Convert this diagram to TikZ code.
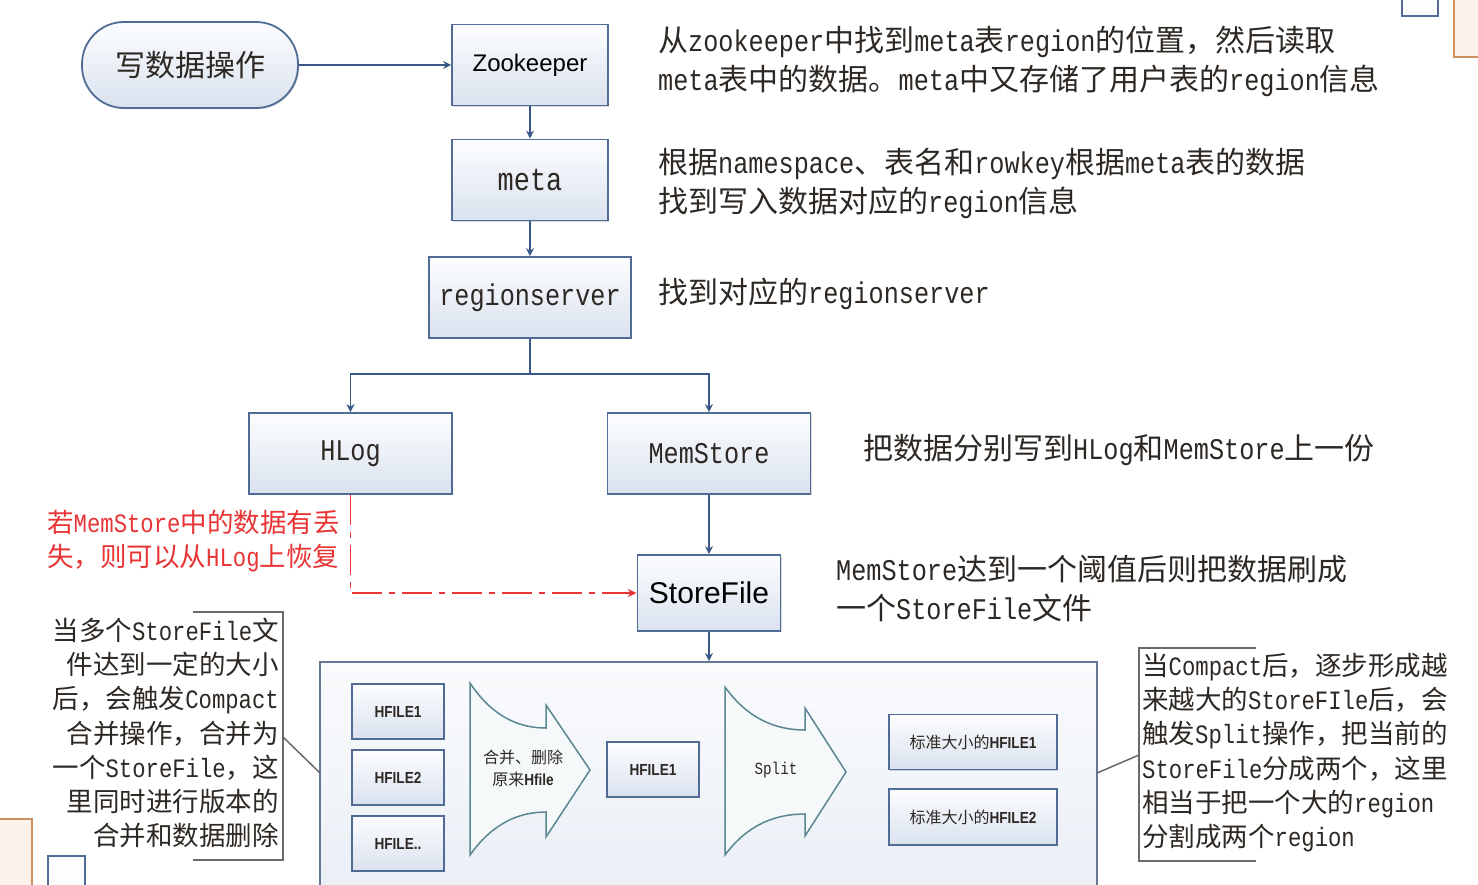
\documentclass[tikz,border=0pt]{standalone}
\usepackage{fontspec}
\setmainfont[FakeStretch=0.84]{Liberation Mono}
\newfontfamily\cjkfont{Noto Sans CJK SC}
\newfontfamily\latfont[FakeStretch=0.84]{Liberation Mono}
\newfontfamily\sansfont{Liberation Sans}
\newfontfamily\hfont[FakeStretch=0.85]{Liberation Sans}
\usetikzlibrary{arrows.meta,shadows}
\chardef\cjkcls=10
\newcount\cjkc
\def\setcjkrange#1#2{\cjkc=#1\relax\loop\XeTeXcharclass\cjkc=\cjkcls\relax\ifnum\cjkc<#2\relax\advance\cjkc by 1\repeat}
\setcjkrange{"4E00}{"9FFF}
\setcjkrange{"3000}{"303F}
\setcjkrange{"FF00}{"FFEF}
\def\curlatin{\latfont}
\XeTeXinterchartoks 0 \cjkcls = {\cjkfont}
\XeTeXinterchartoks 4095 \cjkcls = {\cjkfont}
\XeTeXinterchartoks \cjkcls 0 = {\curlatin}
\XeTeXinterchartokenstate=1
\definecolor{boxb}{RGB}{80,108,150}
\definecolor{boxt}{RGB}{252,253,255}
\definecolor{boxf}{RGB}{218,226,238}
\definecolor{conn}{RGB}{58,88,135}
\definecolor{txt}{RGB}{45,40,35}
\definecolor{redc}{RGB}{232,52,52}
\definecolor{bigb}{RGB}{100,120,150}
\definecolor{bigt}{RGB}{250,251,253}
\definecolor{bigf}{RGB}{233,238,245}
\definecolor{chev}{RGB}{90,135,145}
\definecolor{chevf}{RGB}{246,249,250}
\definecolor{brk}{RGB}{105,105,105}
\definecolor{orb}{RGB}{205,145,95}
\definecolor{orf}{RGB}{253,242,234}
\begin{document}
\begin{tikzpicture}[x=1pt,y=-1pt,
  box/.style={draw=boxb, line width=1.8pt, top color=boxt, bottom color=boxf,
    drop shadow={shadow xshift=1.2pt,shadow yshift=-1.2pt,opacity=0.15,fill=black},
    inner sep=0pt, text=txt},
  bigbox/.style={draw=bigb, line width=1.8pt, top color=bigt, bottom color=bigf, inner sep=0pt},
  conn/.style={draw=conn, line width=1.8pt, -{Stealth[length=8pt,width=8pt]}},
  redline/.style={draw=redc, line width=1.8pt, dash pattern=on 30pt off 7pt on 6pt off 7pt,
    -{Stealth[length=9pt,width=8pt]}},
  brkline/.style={draw=brk, line width=1.5pt},
  chevron/.style={draw=chev, line width=1.5pt, fill=chevf},
  note/.style={inner sep=0pt, text=txt},
  f30/.style={font=\def\curlatin{\latfont}\latfont\fontsize{30}{39}\selectfont},
  f26/.style={font=\def\curlatin{\latfont}\latfont\fontsize{26.5}{34.2}\selectfont},
  hf/.style={font=\def\curlatin{\hfont\bfseries}\hfont\bfseries\fontsize{16}{20}\selectfont},
  sm/.style={font=\def\curlatin{\hfont\bfseries}\cjkfont\fontsize{16}{22}\selectfont},
]
\useasboundingbox (0,0) rectangle (1478,884);
\clip (0,0) rectangle (1478,884);
\fill[white] (0,0) rectangle (1478,884);

% corner fragments
\draw[draw=orb, line width=1.5pt, fill=orf] (-10,819) rectangle (32,900);
\draw[draw=boxb, line width=1.5pt, fill=boxt] (48,856) rectangle (85,900);
\draw[draw=boxb, line width=1.5pt, fill=boxt] (1402,-10) rectangle (1438,16);
\draw[draw=orb, line width=1.5pt, fill=orf] (1454,-10) rectangle (1490,57);

% main flow
\node[box, minimum width=216pt, minimum height=86pt, rounded corners=42pt,
  font=\cjkfont\fontsize{30}{36}\selectfont] (start) at (190,65) {写数据操作};
\node[box, minimum width=156pt, minimum height=81pt,
  font=\sansfont\fontsize{24}{28}\selectfont, text=black] (zk) at (530,65) {Zookeeper};
\node[box, minimum width=156pt, minimum height=81pt,
  font=\latfont\fontsize{32}{36}\selectfont] (meta) at (530,180) {meta};
\node[box, minimum width=202pt, minimum height=81pt, f30] (rs) at (530,297.5) {regionserver};
\node[box, minimum width=203pt, minimum height=81pt, f30] (hlog) at (350.5,453.5) {HLog};
\node[box, minimum width=203pt, minimum height=81pt, f30] (mem) at (709,453.5) {MemStore};
\node[box, minimum width=143pt, minimum height=76pt,
  font=\sansfont\fontsize{30}{34}\selectfont, text=black] (sf) at (709,593) {StoreFile};

\node[bigbox, minimum width=777pt, minimum height=243pt] (big) at (708.5,783.5) {};

\node[box, minimum width=92pt, minimum height=55pt, hf] (h1) at (398,711.5) {HFILE1};
\node[box, minimum width=92pt, minimum height=55pt, hf] (h2) at (398,777.5) {HFILE2};
\node[box, minimum width=92pt, minimum height=55pt, hf] (h3) at (398,843.5) {HFILE..};
\node[box, minimum width=92pt, minimum height=55pt, hf] (hm) at (653,769.5) {HFILE1};
\node[box, minimum width=168pt, minimum height=55pt, sm] (s1) at (973,742) {标准大小的HFILE1};
\node[box, minimum width=168pt, minimum height=56pt, sm] (s2) at (973,817) {标准大小的HFILE2};

% chevrons
\draw[chevron] (470,683) .. controls (492,716) and (518,728) .. (546,728) -- (546,705)
  -- (590,770) -- (546,837) -- (546,812) .. controls (518,812) and (492,824) .. (470,855) -- cycle;
\draw[chevron] (725,687) .. controls (748,719) and (776,730) .. (805,730) -- (805,708)
  -- (846,772) -- (805,836) -- (805,814) .. controls (776,814) and (748,824) .. (725,855) -- cycle;
\node[note, sm, align=center] (mlab) at (523,768) {合并、删除\\原来Hfile};
\node[note, font=\latfont\fontsize{17}{20}\selectfont] (slab) at (776,770) {Split};

% connectors
\draw[conn] (start) -- (zk);
\draw[conn] (zk) -- (meta);
\draw[conn] (meta) -- (rs);
\draw[conn] (rs.south) -- ++(0,35) -| (hlog.north);
\draw[conn] (rs.south) -- ++(0,35) -| (mem.north);
\draw[conn] (mem) -- (sf);
\draw[conn] (sf.south) -- (sf.south |- big.north);
\draw[redline] (hlog.south) |- (sf.west);

% right-hand notes
\node[note, f30, anchor=west, align=left] (n1) at (658,61.5)
  {从zookeeper中找到meta表region的位置，然后读取\\meta表中的数据。meta中又存储了用户表的region信息};
\node[note, f30, anchor=west, align=left] (n2) at (658,183)
  {根据namespace、表名和rowkey根据meta表的数据\\找到写入数据对应的region信息};
\node[note, f30, anchor=west] (n3) at (658,294) {找到对应的regionserver};
\node[note, f30, anchor=west] (n4) at (863,450) {把数据分别写到HLog和MemStore上一份};
\node[note, f30, anchor=west, align=left] (n5) at (836,589)
  {MemStore达到一个阈值后则把数据刷成\\一个StoreFile文件};
\node[note, f26, anchor=west, align=left, text=redc] (nred) at (47,541)
  {若MemStore中的数据有丢\\失，则可以从HLog上恢复};

% left bracket note
\node[note, f26, anchor=east, align=right] (nl) at (279,733)
  {当多个StoreFile文\\件达到一定的大小\\后，会触发Compact\\合并操作，合并为\\一个StoreFile，这\\里同时进行版本的\\合并和数据删除};
\draw[brkline] (193,612) -- (283,612) -- (283,860) -- (193,860);
\coordinate (lbk) at (283,737);
\coordinate (lbb) at (320,773);
\draw[brkline] (lbk) -- (lbb);

% right bracket note
\node[note, f26, anchor=west, align=left] (nr) at (1142,752.5)
  {当Compact后，逐步形成越\\来越大的StoreFIle后，会\\触发Split操作，把当前的\\StoreFile分成两个，这里\\相当于把一个大的region\\分割成两个region};
\draw[brkline] (1256,648) -- (1139,648) -- (1139,861) -- (1256,861);
\coordinate (rbk) at (1139,755);
\coordinate (rbb) at (1097,773);
\draw[brkline] (rbk) -- (rbb);
\end{tikzpicture}
\end{document}
